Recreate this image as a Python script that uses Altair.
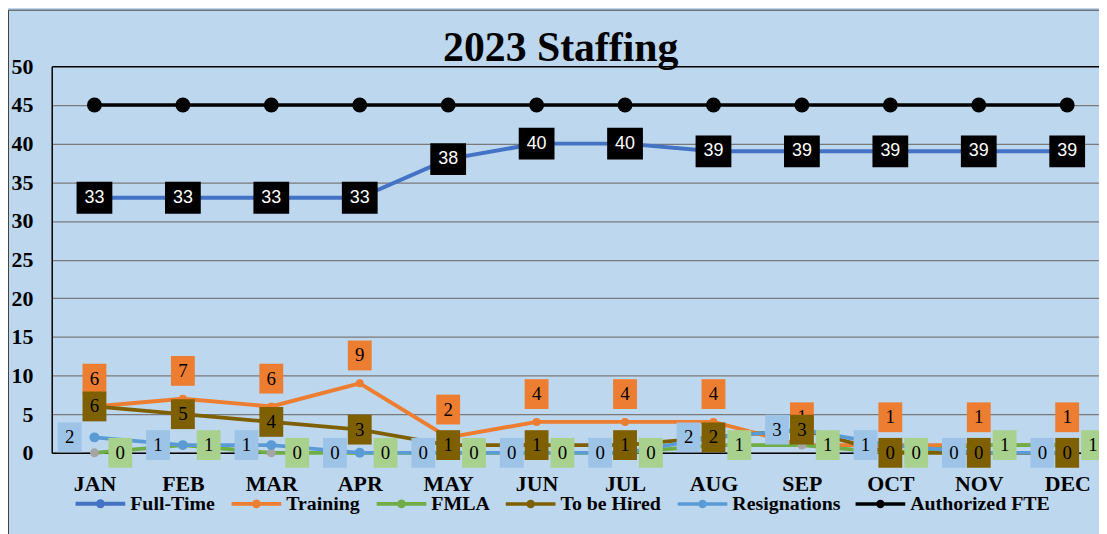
import json
import altair as alt
import pandas as pd

# ---- data ----
months = ["JAN", "FEB", "MAR", "APR", "MAY", "JUN", "JUL", "AUG", "SEP", "OCT", "NOV", "DEC"]
series_names = ["Full-Time", "Training", "FMLA", "To be Hired", "Resignations", "Authorized FTE"]
full_time = [33, 33, 33, 33, 38, 40, 40, 39, 39, 39, 39, 39]
training = [6, 7, 6, 9, 2, 4, 4, 4, 1, 1, 1, 1]
fmla = [0, 1, 0, 0, 0, 0, 0, 1, 1, 0, 1, 1]
to_be_hired = [6, 5, 4, 3, 1, 1, 1, 2, 3, 0, 0, 0]
resignations = [2, 1, 1, 0, 0, 0, 0, 2, 3, 1, 0, 0]
authorized_fte = [45, 45, 45, 45, 45, 45, 45, 45, 45, 45, 45, 45]
y_ticks = [0, 5, 10, 15, 20, 25, 30, 35, 40, 45, 50]

# ---- styles ----
line_colors = ["#4472C4", "#ED7D31", "#70AD47", "#7F6000", "#5B9BD5", "#000000"]
line_widths = [4, 3.5, 3, 4.5, 4, 3.5]
BG = "#BDD7EE"
SERIF = "Liberation Serif"
SANS = "Liberation Sans"

all_values = [full_time, training, fmla, to_be_hired, resignations, authorized_fte]
rows = []
for name, vals in zip(series_names, all_values):
    for i, (m, v) in enumerate(zip(months, vals)):
        rows.append({"series": name, "month": m, "idx": i, "value": v})
df = pd.DataFrame(rows)

W, H = 1054, 389
PAD_L, PAD_T, PAD_B = 44, 57, 80
STEP, FIRST = 89.0, 43.0
x_domain = [-FIRST / STEP, (W - FIRST) / STEP]

x_axis = alt.Axis(
    values=list(range(len(months))),
    labelExpr=f"{json.dumps(months)}[datum.value]",
    grid=False, ticks=False, tickSize=0,
    domainColor="#000000", domainWidth=1.5,
    labelFont=SERIF, labelFontSize=22, labelFontWeight="bold", labelColor="#000000",
    labelPadding=21, labelFlush=False, labelOverlap=False, labelBound=False, title=None,
)
y_axis = alt.Axis(
    values=y_ticks, grid=True,
    gridColor={"condition": {"test": "datum.value === 50", "value": "#000000"}, "value": "#7a7a7a"},
    gridWidth={"condition": {"test": "datum.value === 50", "value": 1.5}, "value": 1.3},
    ticks=False, tickSize=0,
    domainColor="#000000", domainWidth=1.5,
    labelFont=SERIF, labelFontSize=22, labelFontWeight="bold", labelColor="#000000",
    labelPadding=19, labelOverlap=False, labelFlush=False, title=None,
)
X = alt.X("idx:Q", scale=alt.Scale(domain=x_domain, nice=False, zero=False), axis=x_axis)
Y = alt.Y("value:Q", scale=alt.Scale(domain=[0, 50], nice=False), axis=y_axis)

base = alt.Chart(df)

legend_path = "M-1,0L1,0M0.1,0A0.1,0.1,0,1,1,-0.1,0A0.1,0.1,0,1,1,0.1,0"

# outer chart frame (only its left and top edges fall inside the picture)
border = alt.Chart(pd.DataFrame({"k": [0]})).mark_rect(
    filled=False, color="#404040", strokeWidth=1
).encode(
    x=alt.value(-PAD_L + 0.5), x2=alt.value(W + 20),
    y=alt.value(-PAD_T + 0.5), y2=alt.value(H + PAD_B + 20),
)

lines = base.mark_line().encode(
    x=X, y=Y,
    color=alt.Color(
        "series:N",
        scale=alt.Scale(domain=series_names, range=line_colors),
        legend=alt.Legend(
            title=None, orient="none", legendX=22, legendY=413,
            direction="horizontal", columns=6, columnPadding=8, padding=0,
            symbolType=legend_path, symbolSize=2500, symbolStrokeWidth=5,
            labelFont=SERIF, labelFontSize=20, labelFontWeight="bold", labelColor="#000000",
            labelOffset=3, labelLimit=400,
        ),
    ),
    strokeWidth=alt.StrokeWidth(
        "series:N", scale=alt.Scale(domain=series_names, range=line_widths), legend=None
    ),
)

point_specs = [
    ("Training", "#ED7D31", 64),
    ("FMLA", "#A5A5A5", 81),
    ("Resignations", "#5B9BD5", 100),
    ("Authorized FTE", "#000000", 225),
]
points = [
    base.transform_filter(alt.datum.series == s)
    .mark_circle(color=c, size=sz, opacity=1)
    .encode(x=X, y=Y)
    for s, c, sz in point_specs
]

# (series, box colour, text colour, font, font size, dx, dy, half width, half height)
label_specs = [
    ("Training", "#ED7D31", "#000000", SERIF, 19, 0, -28, 12, 15),
    ("FMLA", "#A9D18E", "#000000", SERIF, 19, 26, 0, 12, 15),
    ("Resignations", "#9DC3E6", "#000000", SERIF, 19, -25, 0, 12, 15),
    ("To be Hired", "#7F6000", "#000000", SERIF, 19, 0, 0, 12, 15),
    ("Full-Time", "#000000", "#FFFFFF", SANS, 18, 0, 0, 18, 16),
]
labels = []
for s, box, tc, font, fs, dx, dy, hw, hh in label_specs:
    sub = base.transform_filter(alt.datum.series == s)
    labels.append(
        sub.mark_rect(
            color=box, opacity=1,
            xOffset=dx - hw, x2Offset=dx + hw, yOffset=dy - hh, y2Offset=dy + hh,
        ).encode(x=X, x2=alt.X2("idx"), y=Y, y2=alt.Y2("value"))
    )
    labels.append(
        sub.mark_text(
            color=tc, font=font, fontSize=fs, dx=dx, dy=dy,
            align="center", baseline="middle",
        ).encode(x=X, y=Y, text="value:Q")
    )

chart = (
    alt.layer(border, lines, *points, *labels)
    .properties(
        width=W, height=H,
        autosize=alt.AutoSizeParams(type="none"),
        padding={"left": PAD_L, "top": PAD_T, "right": 0, "bottom": PAD_B},
        title=alt.Title(
            "2023 Staffing", font=SERIF, fontSize=42, fontWeight="bold", color="#000000",
            anchor="middle", frame="bounds", offset=-61, dx=-3,
        ),
    )
    .configure(background=BG)
    .configure_view(stroke=None)
)

chart.save("out.html", embed_options={"renderer": "svg", "actions": False})
